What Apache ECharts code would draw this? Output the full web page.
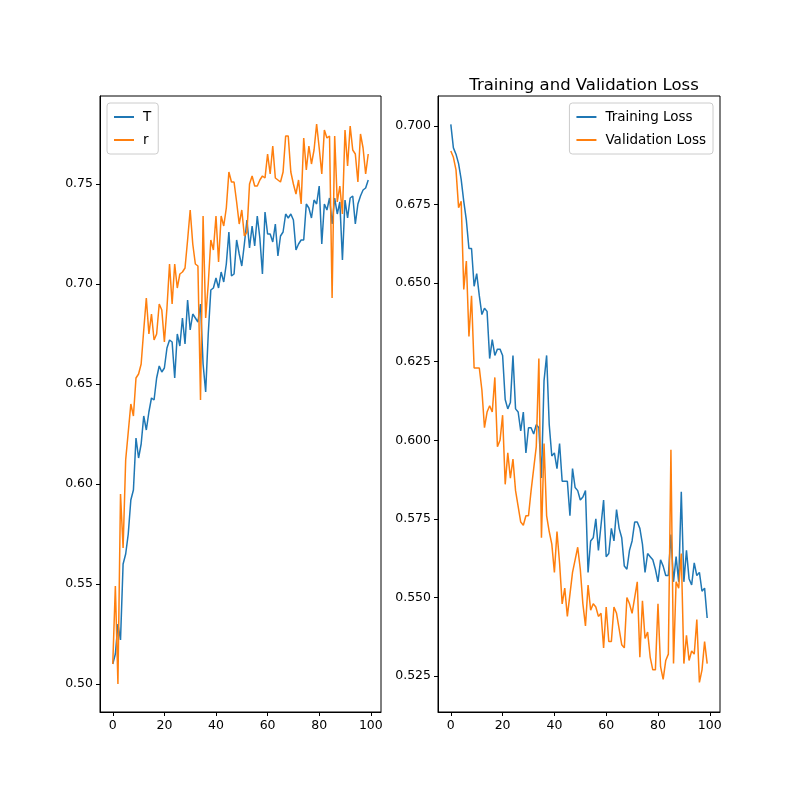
<!DOCTYPE html>
<html>
<head>
<meta charset="utf-8">
<script src="https://cdn.jsdelivr.net/npm/echarts@6/dist/echarts.min.js"></script>
<style>html,body{margin:0;background:#fff}#c{width:800px;height:800px}</style>
</head>
<body>
<div id="c"></div>
<script>
// accuracy (left panel)
var accT = [0.51,0.515,0.53,0.522,0.56,0.565,0.575,0.592,0.597,0.623,0.613,0.62,0.634,0.627,0.636,0.643,0.642,0.653,0.659,0.656,
  0.658,0.668,0.672,0.671,0.653,0.675,0.669,0.683,0.67,0.692,0.677,0.685,0.683,0.681,0.69,0.66,0.646,0.675,0.697,0.698,
  0.703,0.698,0.706,0.701,0.71,0.726,0.704,0.705,0.722,0.715,0.709,0.72,0.732,0.718,0.729,0.719,0.734,0.723,0.705,0.736,
  0.725,0.725,0.721,0.73,0.714,0.724,0.726,0.735,0.733,0.735,0.732,0.717,0.72,0.722,0.722,0.74,0.738,0.733,0.742,0.74,
  0.749,0.72,0.74,0.737,0.743,0.73,0.743,0.735,0.741,0.712,0.742,0.733,0.743,0.744,0.73,0.74,0.744,0.747,0.748,0.752];
var accR = [0.51,0.549,0.50,0.595,0.568,0.612,0.626,0.64,0.634,0.653,0.655,0.66,0.677,0.693,0.675,0.685,0.672,0.675,0.69,0.687,
  0.671,0.688,0.71,0.69,0.71,0.698,0.705,0.706,0.708,0.722,0.737,0.72,0.71,0.709,0.642,0.734,0.683,0.70,0.722,0.717,
  0.734,0.711,0.734,0.729,0.738,0.756,0.751,0.751,0.741,0.73,0.737,0.724,0.726,0.75,0.754,0.749,0.749,0.752,0.754,0.753,
  0.765,0.755,0.769,0.753,0.752,0.751,0.756,0.774,0.774,0.756,0.75,0.745,0.752,0.74,0.773,0.757,0.769,0.76,0.767,0.78,
  0.768,0.755,0.777,0.773,0.774,0.693,0.774,0.741,0.749,0.735,0.777,0.759,0.779,0.767,0.765,0.751,0.775,0.768,0.755,0.765];
// loss (right panel)
var trainLoss = [0.7005,0.693,0.691,0.688,0.683,0.676,0.670,0.661,0.661,0.649,0.653,0.646,0.640,0.642,0.641,0.626,0.632,0.627,0.629,0.629,
  0.627,0.613,0.610,0.612,0.627,0.610,0.609,0.603,0.609,0.596,0.604,0.604,0.602,0.605,0.604,0.588,0.619,0.627,0.605,0.595,
  0.596,0.591,0.599,0.587,0.587,0.587,0.576,0.591,0.585,0.584,0.581,0.582,0.584,0.558,0.568,0.569,0.575,0.565,0.573,0.581,
  0.563,0.564,0.572,0.568,0.578,0.572,0.569,0.560,0.559,0.565,0.568,0.574,0.574,0.572,0.567,0.558,0.564,0.563,0.562,0.559,
  0.555,0.562,0.560,0.557,0.557,0.570,0.555,0.563,0.555,0.5836,0.555,0.565,0.556,0.554,0.561,0.557,0.558,0.552,0.553,0.5435];
var valLoss = [0.692,0.690,0.686,0.674,0.676,0.648,0.657,0.633,0.646,0.623,0.623,0.623,0.616,0.604,0.609,0.611,0.609,0.620,0.598,0.600,
  0.608,0.586,0.596,0.588,0.594,0.584,0.579,0.574,0.573,0.576,0.576,0.584,0.591,0.598,0.626,0.569,0.599,0.576,0.571,0.567,
  0.558,0.571,0.561,0.548,0.553,0.544,0.551,0.558,0.562,0.566,0.559,0.548,0.541,0.554,0.546,0.548,0.547,0.544,0.545,0.534,
  0.547,0.536,0.536,0.547,0.545,0.540,0.535,0.534,0.550,0.548,0.545,0.550,0.555,0.531,0.549,0.537,0.539,0.531,0.527,0.527,
  0.548,0.528,0.524,0.530,0.532,0.597,0.529,0.555,0.553,0.564,0.529,0.538,0.530,0.533,0.532,0.543,0.523,0.527,0.536,0.529];
var xTicks = [0, 20, 40, 60, 80, 100];
var accTicks = [0.50, 0.55, 0.60, 0.65, 0.70, 0.75];
var lossTicks = [0.525, 0.550, 0.575, 0.600, 0.625, 0.650, 0.675, 0.700];

function pts(arr) { return arr.map(function (v, i) { return [i, v]; }); }

var font = 'DejaVu Sans';
function xAx(idx) {
  return {
    type: 'value', gridIndex: idx, min: -4.95, max: 103.95,
    splitLine: {show: false},
    axisLine: {onZero: false, lineStyle: {color: '#000'}},
    axisTick: {customValues: xTicks, length: 4, lineStyle: {color: '#000'}},
    axisLabel: {customValues: xTicks, color: '#000', fontFamily: font, fontSize: 12.5, margin: 7}
  };
}
function yAx(idx, min, max, ticks, digits) {
  return {
    type: 'value', gridIndex: idx, min: min, max: max,
    splitLine: {show: false},
    axisLine: {show: true, onZero: false, lineStyle: {color: '#000'}},
    axisTick: {customValues: ticks, length: 4, lineStyle: {color: '#000'}},
    axisLabel: {customValues: ticks, color: '#000', fontFamily: font, fontSize: 12.5, margin: 7,
      formatter: function (v) { return v.toFixed(digits); }}
  };
}
function line(name, data, color, xi) {
  return {name: name, type: 'line', xAxisIndex: xi, yAxisIndex: xi, data: pts(data),
    showSymbol: false, lineStyle: {color: color, width: 1.5}, itemStyle: {color: color}};
}
var legendBase = {
  orient: 'vertical', icon: 'path://M0,0H30V3H0Z', itemWidth: 28, itemHeight: 2, itemGap: 9,
  backgroundColor: '#fff', borderColor: '#ccc', borderWidth: 1, borderRadius: 3, padding: [7, 7],
  textStyle: {fontFamily: font, fontSize: 13.5, color: '#000'}
};

var chart = echarts.init(document.getElementById('c'));
chart.setOption({
  animation: false,
  title: {text: 'Training and Validation Loss', left: 579, top: 72, textAlign: 'center',
    textStyle: {fontFamily: font, fontSize: 16.5, fontWeight: 'normal', color: '#000'}},
  grid: [
    {left: 100, top: 96, width: 281, height: 616, show: true, borderColor: '#000', borderWidth: 1},
    {left: 438, top: 96, width: 282, height: 616, show: true, borderColor: '#000', borderWidth: 1}
  ],
  legend: [
    Object.assign({}, legendBase, {left: 107, top: 103, data: ['T', 'r']}),
    Object.assign({}, legendBase, {right: 87, top: 103, data: ['Training Loss', 'Validation Loss']})
  ],
  xAxis: [xAx(0), xAx(1)],
  yAxis: [yAx(0, 0.486, 0.794, accTicks, 2), yAx(1, 0.5136, 0.7095, lossTicks, 3)],
  series: [
    line('T', accT, '#1f77b4', 0),
    line('r', accR, '#ff7f0e', 0),
    line('Training Loss', trainLoss, '#1f77b4', 1),
    line('Validation Loss', valLoss, '#ff7f0e', 1)
  ]
});
</script>
</body>
</html>
